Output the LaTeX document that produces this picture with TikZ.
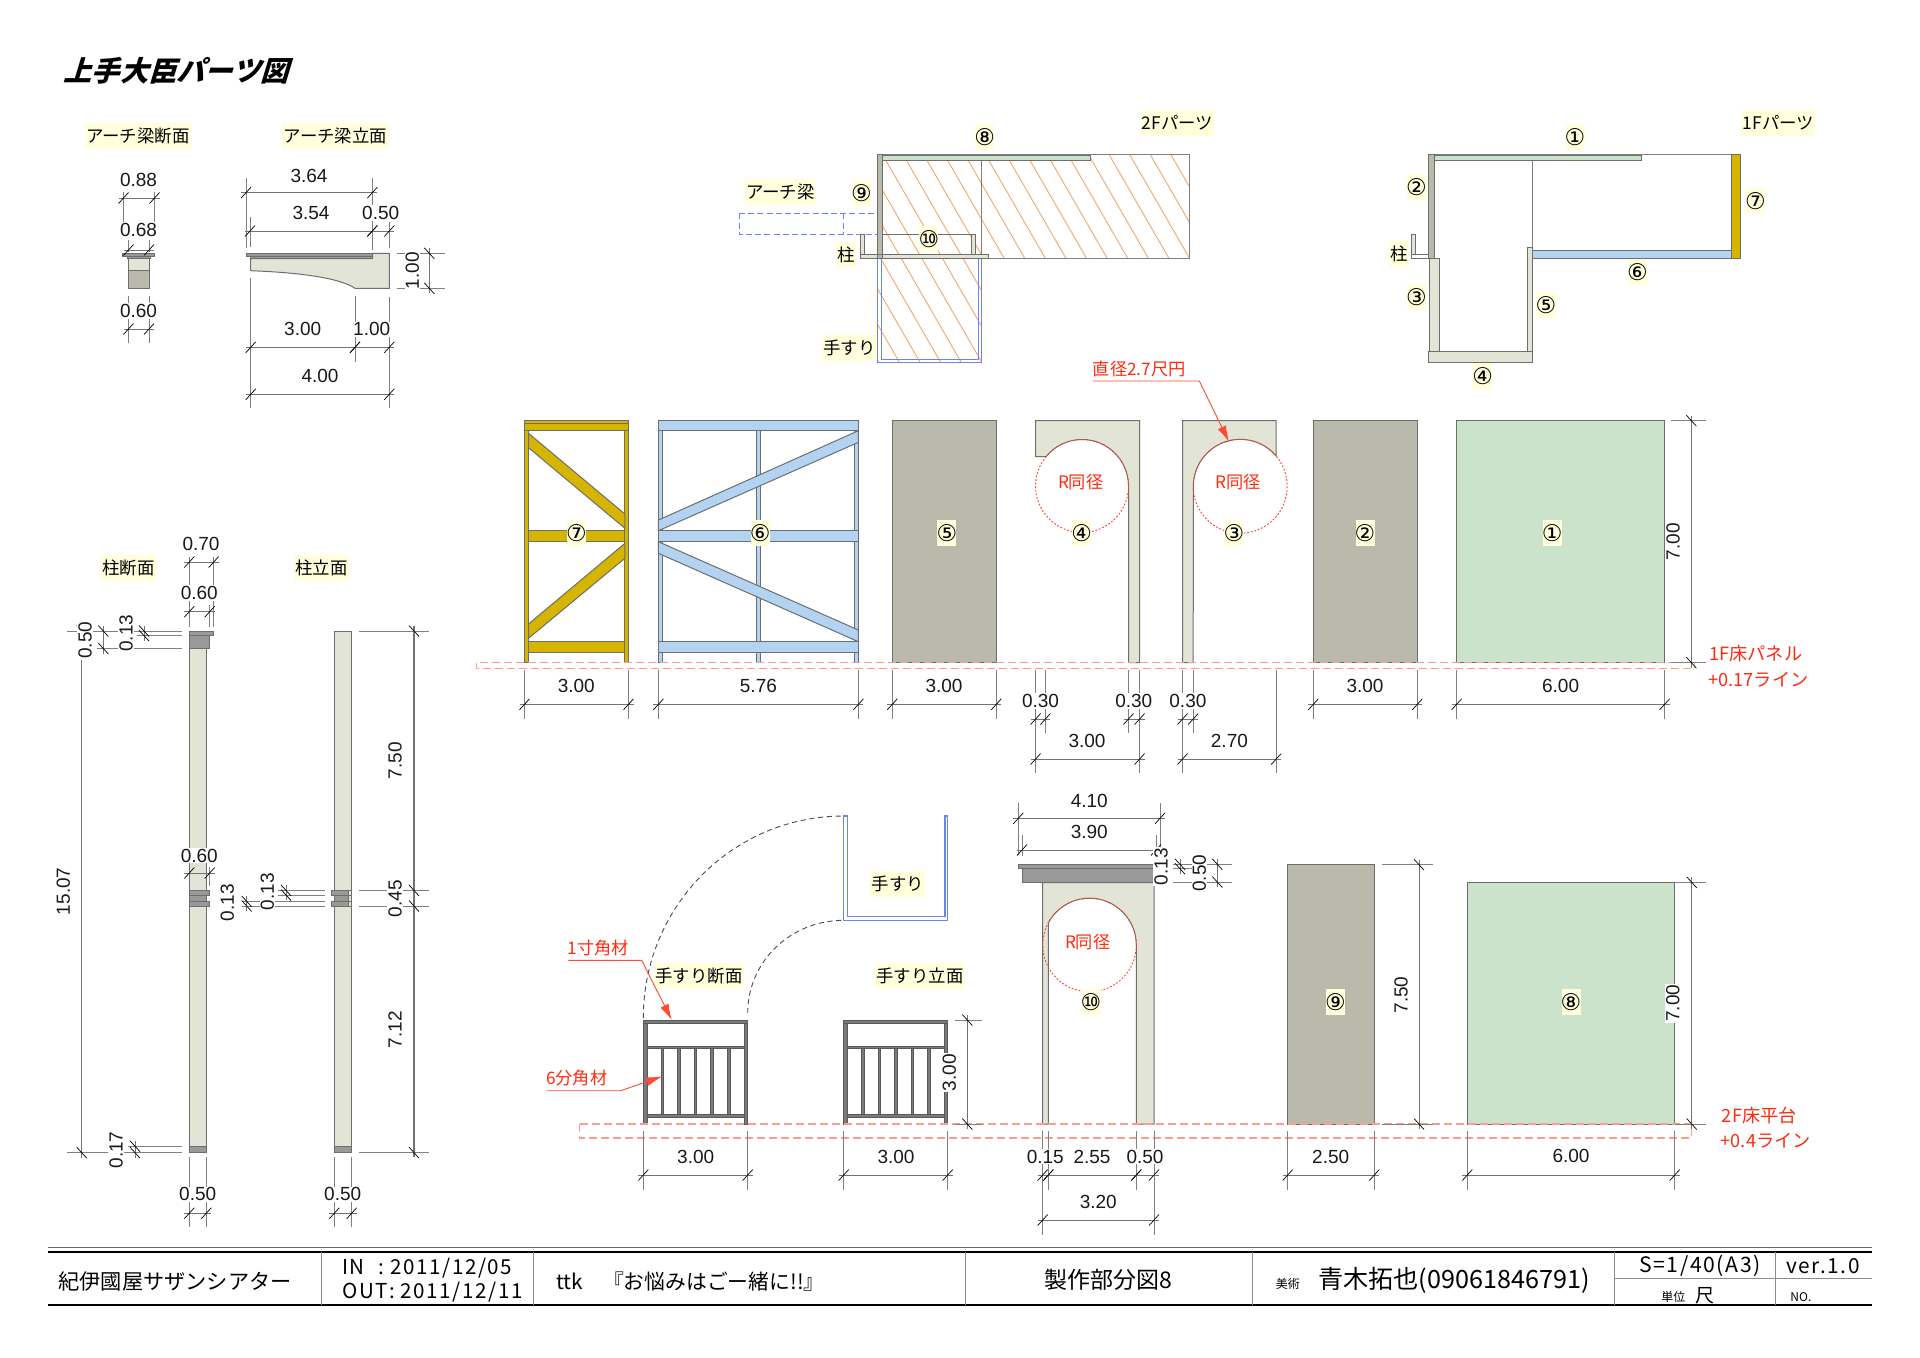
\documentclass[tikz,border=0pt]{standalone}
\usepackage{fontspec}
\setmainfont{Liberation Sans}
\newfontfamily\cjk{Noto Sans CJK JP}
\newfontfamily\cjkw[LetterSpace=7.5]{Noto Sans CJK JP}
\newfontfamily\dejav{DejaVu Sans}
\usetikzlibrary{arrows.meta}
\definecolor{cpale}{HTML}{E2E5D5}
\definecolor{cgray}{HTML}{B9B9AC}
\definecolor{cgreen}{HTML}{CBE2CB}
\definecolor{cblue}{HTML}{B3D3F2}
\definecolor{cyel}{HTML}{D5B500}
\definecolor{cdark}{HTML}{999999}
\definecolor{clab}{HTML}{FFFFDC}
\definecolor{cbl}{HTML}{6C84F0}
\definecolor{chat}{HTML}{F5A66A}
\definecolor{cred}{HTML}{FF2A10}
\definecolor{cflo}{HTML}{FF9C90}
\definecolor{cedge}{HTML}{6E6E6E}
\newcommand\fs[1]{\fontsize{#1}{#1}\selectfont}
\newcounter{nn}
\tikzset{
 pan/.style={draw=cedge,line width=.5pt},
 dimline/.style={draw=black!55,line width=.45pt},
 extl/.style={draw=black!50,line width=.4pt},
 tickl/.style={draw=black,line width=.35pt},
 dimt/.style={font=\fs{9.5},inner sep=.4pt,text=black!90,fill=white},
 dimr/.style={dimt,rotate=90},
 lab/.style={fill=clab,inner sep=.7pt,minimum height=13pt,font=\cjk\fs{8.7}},
 circ/.style={fill=clab,inner xsep=-.4pt,inner ysep=0pt,minimum height=13pt,minimum width=9.4pt,font=\dejav\fs{11.5}},
 redt/.style={font=\cjk\fs{8.6},text=cred,inner sep=0pt},
 redb/.style={font=\cjk\fs{9.1},text=cred,inner sep=0pt},
 ttl/.style={font=\cjk\fs{10.5},inner sep=0pt},
 floorl/.style={draw=cflo,line width=.6pt,dash pattern=on 4pt off 2pt},
 dotc/.style={draw=cred!90,line width=.45pt,dash pattern=on .9pt off .9pt},
 leader/.style={draw=cred!85,line width=.45pt},
 blu/.style={draw=cbl,line width=.6pt},
 rl/.style={fill=black!52,draw=black!65,line width=.3pt},
 hatchl/.style={draw=chat,line width=.45pt},
}
\newcommand\xl[3]{\draw[extl] (#1,#2) -- (#1,#3);}
\newcommand\yl[3]{\draw[extl] (#2,#1) -- (#3,#1);}
\newcommand\htick[2]{\draw[tickl] (#1-5,#2+5.5) -- (#1+5,#2-5.5);}
\newcommand\vtick[2]{\draw[tickl] (#1-5,#2-5.5) -- (#1+5,#2+5.5);}
\newcommand\hdim[3]{\draw[dimline] (#1-5,#3) -- (#2+5,#3);\htick{#1}{#3}\htick{#2}{#3}}
\newcommand\vdim[3]{\draw[dimline] (#3,#1-5) -- (#3,#2+5);\vtick{#3}{#1}\vtick{#3}{#2}}
\newcommand\dt[3]{\stepcounter{nn}\node[dimt] (d\arabic{nn}) at (#1,#2) {#3};}
\newcommand\dtr[3]{\stepcounter{nn}\node[dimr] (d\arabic{nn}) at (#1,#2) {#3};}
\newcommand\lb[3]{\stepcounter{nn}\node[lab] (l\arabic{nn}) at (#1,#2-.7) {#3};}
\newcommand\cc[3]{\stepcounter{nn}\node[circ] (c\arabic{nn}) at (#1,#2) {#3};}
\newcommand\rt[3]{\stepcounter{nn}\node[redt] (r\arabic{nn}) at (#1,#2) {#3};}
\newcommand\rb[3]{\stepcounter{nn}\node[redb] (r\arabic{nn}) at (#1,#2) {#3};}
\newcommand\rlg[1]{%
 \foreach \b in {19,35.6,52,68.7,85.3}{\draw[rl] (#1+\b-1.3,1048) rectangle (#1+\b+1.3,1114);}
 \draw[rl] (#1+4,1046) rectangle (#1+100.5,1048.3);
 \draw[rl] (#1+4,1114) rectangle (#1+100.5,1117.3);
 \draw[rl] (#1,1020) rectangle (#1+4,1124);
 \draw[rl] (#1+100.5,1020) rectangle (#1+104,1124);
 \draw[rl] (#1,1020) rectangle (#1+104,1023.3);
}
\begin{document}
\begin{tikzpicture}[x=.5pt,y=-.5pt]
\useasboundingbox (0,0) rectangle (1920,1357);
\fill[white] (0,0) rectangle (1920,1357);
% title
\node[font=\cjk\bfseries\fs{14.1},inner sep=0pt,xslant=.3,transform shape] (title) at (179.5,71) {上手大臣パーツ図};
\lb{137.8}{136.5}{アーチ梁断面}
\lb{335.5}{136.5}{アーチ梁立面}
% beam section
\xl{123.5}{192}{237}\xl{154.5}{192}{237}
\xl{128.5}{240}{252}\xl{149}{240}{252}
\xl{128.5}{296}{343}\xl{149}{296}{343}
\draw[pan,fill=cpale] (128.3,258.7) rectangle (149,270.7);
\draw[pan,fill=cgray] (128.3,270.7) rectangle (149,288.3);
\draw[pan,fill=cdark] (127,256.7) rectangle (150,258.7);
\draw[pan,fill=cdark] (122.7,253.3) rectangle (154.3,256.7);
\hdim{123.5}{154.5}{198}\hdim{128.5}{149}{250}\hdim{128.5}{149}{329}
\dt{138.5}{180}{0.88}\dt{138.5}{230}{0.68}\dt{138.5}{311}{0.60}
% beam elevation
\xl{246}{178}{248}\xl{372.3}{178}{250}\xl{250}{217}{247}\xl{389.3}{222}{248}
\xl{250.7}{278}{408}\xl{355}{296}{362}\xl{389.3}{297}{408}
\yl{253.3}{396.7}{445}\yl{288.3}{396.7}{445}
\draw[pan,fill=cpale] (250.7,258.7) -- (372.7,258.7) -- (372.7,253.3) -- (389.3,253.3) -- (389.3,288.3) -- (355,288.3) .. controls (340,278) and (300,272.5) .. (250.7,270.7) -- cycle;
\draw[pan,fill=cdark] (250,256.7) rectangle (372.7,258.7);
\draw[pan,fill=cdark] (246,253.3) rectangle (372.7,256.7);
\hdim{246}{372.3}{192.7}\hdim{250}{372.3}{231}\hdim{372.3}{389.3}{231}
\hdim{250.7}{355}{347.3}\hdim{355}{389.3}{347.3}\hdim{250.7}{389.3}{394.3}
\vdim{253.3}{288.3}{429.3}
\dt{309}{176}{3.64}\dt{311}{213}{3.54}\dt{380.7}{213}{0.50}
\dt{302.7}{329.3}{3.00}\dt{371.7}{329.3}{1.00}\dt{320}{376}{4.00}\dtr{412.3}{270.7}{1.00}
% 2F plan
\begin{scope}
\clip (877.5,154.3) -- (1189.3,154.3) -- (1189.3,258.3) -- (981.4,258.3) -- (981.4,362.3) -- (877.5,362.3) -- cycle;
\foreach \k in {-2,-1,...,24}{\draw[hatchl] ({1170.7-20.6*\k},154.3) -- ({1170.7-20.6*\k+120},{154.3+207.8});}
\end{scope}
\draw[extl,line width=.6pt] (877.5,154.3) -- (1189.3,154.3) -- (1189.3,258.3) -- (877.5,258.3);
\draw[extl,line width=.6pt] (981.4,160) -- (981.4,258.3);
\draw[blu] (877.5,258.3) -- (877.5,362.3) -- (981.4,362.3) -- (981.4,258.3);
\draw[blu] (881.4,258.3) -- (881.4,359.3) -- (978.6,359.3) -- (978.6,258.3);
\draw[blu,dash pattern=on 3pt off 1.6pt] (739.3,213.3) rectangle (877.5,234.3);
\draw[blu,dash pattern=on 3pt off 1.6pt] (843.2,213.3) -- (843.2,234.3);
\draw[pan,fill=cgreen] (882.9,155) rectangle (1090.4,160);
\draw[pan,fill=cgray] (877.5,154.3) rectangle (882.9,258.3);
\draw[pan] (882.9,234.3) -- (975.7,234.3);
\draw[pan,fill=cpale] (860.7,234.3) rectangle (864.3,255);
\draw[pan,fill=cpale] (971.4,234.3) rectangle (975.7,254.3);
\draw[pan,fill=cpale] (860.7,254.3) rectangle (988.6,258.3);
\draw[pan,fill=cgray] (877.5,254.3) rectangle (882.9,258.3);
\lb{1177.5}{123.3}{2Fパーツ}\cc{984.6}{137.3}{⑧}\cc{861.4}{192.7}{⑨}
\lb{780.4}{192.7}{アーチ梁}\cc{928.9}{239.3}{⑩}\lb{845.7}{255.3}{柱}\lb{849.3}{348.3}{手すり}
% 1F plan
\draw[extl,line width=.6pt] (1428.3,154.3) -- (1731.7,154.3);
\draw[extl,line width=.6pt] (1532.7,160) -- (1532.7,247.7);
\draw[pan,fill=cgreen] (1434.3,155) rectangle (1641.7,160);
\draw[pan,fill=cgray] (1428.3,154.3) rectangle (1434.3,258.3);
\draw[pan,fill=cpale] (1429,258.3) rectangle (1439.3,351.7);
\draw[pan,fill=cpale] (1428.3,351.7) rectangle (1532.7,362.3);
\draw[pan,fill=cpale] (1527.7,247.7) rectangle (1532.7,351.7);
\draw[pan,fill=cblue] (1532.7,250.3) rectangle (1731.7,258.3);
\draw[pan,fill=cyel] (1731.7,154.3) rectangle (1740,258.3);
\draw[pan,fill=cpale] (1411.7,234.3) rectangle (1415.3,255);
\draw[pan,fill=white] (1411.7,254.3) rectangle (1428.3,258.3);
\lb{1778.3}{123.3}{1Fパーツ}\cc{1575}{137.3}{①}\cc{1416.3}{187.3}{②}\cc{1755.3}{201}{⑦}
\cc{1637.3}{272.3}{⑥}\cc{1416.3}{296.7}{③}\cc{1546}{305}{⑤}\cc{1482.7}{376}{④}\lb{1398.7}{255}{柱}
% panel 7
\foreach \a/\b in {524.5/528.5,624.9/628.5}{\draw[pan,fill=cyel] (\a,420.7) rectangle (\b,662.7);}
\draw[pan,fill=cyel] (524.5,423.3) rectangle (628.5,430.7);
\draw[pan,fill=cyel] (524.5,420.7) rectangle (628.5,423.3);
\draw[pan,fill=cyel] (528.5,530.7) rectangle (624.9,541.7);
\draw[pan,fill=cyel] (528.5,641.7) rectangle (624.9,652.3);
\draw[pan,fill=cyel] (528.5,433.3) -- (624.9,514) -- (624.9,528.3) -- (528.5,447.7) -- cycle;
\draw[pan,fill=cyel] (624.9,543.3) -- (624.9,558.3) -- (528.5,638.3) -- (528.5,624) -- cycle;
% panel 6
\foreach \a/\b in {658.4/662.4,854.8/858.4,756.6/760.6}{\draw[pan,fill=cblue] (\a,420.7) rectangle (\b,662.7);}
\draw[pan,fill=cblue] (658.4,420.7) rectangle (858.4,430.7);
\draw[pan,fill=cblue] (658.4,530.7) rectangle (858.4,541.7);
\draw[pan,fill=cblue] (658.4,641.7) rectangle (858.4,652.3);
\draw[pan,fill=cblue] (658.4,520) -- (658.4,530.7) -- (858.4,442.3) -- (858.4,430.7) -- cycle;
\draw[pan,fill=cblue] (658.4,541.7) -- (658.4,553.3) -- (858.4,641.7) -- (858.4,630) -- cycle;
% panels 5,2,1
\draw[pan,fill=cgray] (892.3,420.7) rectangle (996.3,662.7);
\draw[pan,fill=cgray] (1313.3,420.7) rectangle (1417.3,662.7);
\draw[pan,fill=cgreen] (1456.6,420.7) rectangle (1664.6,662.7);
% panel 4
\draw[pan,fill=cpale] (1035.6,420.7) -- (1139.6,420.7) -- (1139.6,662.7) -- (1128.5,662.7) -- (1128.5,486) arc[start angle=0,end angle=-140.9,radius=46.5] -- (1035.6,456.7) -- cycle;
\draw[dotc] (1082,486) circle[radius=46.5];
% panel 3
\draw[pan,fill=cpale] (1182.5,420.7) -- (1276.2,420.7) -- (1276.2,456) arc[start angle=-40.2,end angle=-180,radius=47] -- (1193.2,662.7) -- (1182.5,662.7) -- cycle;
\draw[dotc] (1240.2,486.3) circle[radius=47];
% floor 1F
\draw[floorl] (476.7,662.7) rectangle (1694.6,668.3);
\rt{1080.7}{481.7}{R同径}\rt{1238.3}{481.7}{R同径}
\cc{576.3}{533.3}{⑦}\cc{760.2}{533.3}{⑥}\cc{946.8}{533.3}{⑤}\cc{1081.6}{533.3}{④}\cc{1233.8}{533.3}{③}\cc{1365}{533.3}{②}\cc{1552.1}{533.3}{①}
% leader 2.7
\rt{1139.3}{369.3}{直径2.7尺円}
\draw[leader,-{Latex[length=8pt,width=4.5pt]}] (1092.9,381) -- (1199.3,381) -- (1228.9,441.7);
\rb{1755.7}{653.3}{1F床パネル}\rb{1758.4}{679.3}{+0.17ライン}
% 1F dims
\foreach \a in {524.5,628.5,658.4,858.4,892.3,996.3,1313.3,1417.3,1456.6,1664.6}{\xl{\a}{670}{719.3}}
\foreach \a in {1045.4,1128.5,1193.2}{\xl{\a}{670}{733}}
\foreach \a in {1035.6,1139.6,1182.5,1276.2}{\xl{\a}{670}{773}}
\hdim{524.5}{628.5}{704.3}\hdim{658.4}{858.4}{704.3}\hdim{892.3}{996.3}{704.3}
\hdim{1313.3}{1417.3}{704.3}\hdim{1456.6}{1664.6}{704.3}
\hdim{1035.6}{1045.4}{719}\hdim{1128.5}{1139.6}{719}\hdim{1182.5}{1193.2}{719}
\hdim{1035.6}{1139.6}{759}\hdim{1182.5}{1276.2}{759}
\dt{576.3}{686}{3.00}\dt{758.4}{686}{5.76}\dt{944}{686}{3.00}\dt{1365}{686}{3.00}\dt{1560.6}{686}{6.00}
\dt{1040.5}{701}{0.30}\dt{1133.8}{701}{0.30}\dt{1187.9}{701}{0.30}
\dt{1087}{740.7}{3.00}\dt{1229.4}{740.7}{2.70}
\yl{420.7}{1671.3}{1705.7}\yl{662.7}{1671.3}{1705.7}
\vdim{420.7}{662.7}{1691.4}
\dtr{1673}{541.7}{7.00}
% columns
\lb{128.3}{569}{柱断面}\lb{321.6}{569}{柱立面}
\draw[pan,fill=cpale] (189.3,648.5) rectangle (206.3,1146.2);
\draw[pan,fill=cdark] (189.3,1146.2) rectangle (206.3,1152.6);
\draw[pan,fill=cdark] (189.3,635.6) rectangle (209.7,648.5);
\draw[pan,fill=cdark] (189.3,631) rectangle (213.7,635.6);
\draw[pan,fill=cdark] (189.3,895) rectangle (206.3,901.4);
\draw[pan,fill=cdark] (189.3,890.4) rectangle (209.7,895);
\draw[pan,fill=cdark] (189.3,901.4) rectangle (209.7,906);
\draw[pan,fill=cpale] (334.3,631) rectangle (351.7,1146.2);
\draw[pan,fill=cdark] (334.3,1146.2) rectangle (351.7,1152.6);
\draw[pan,fill=cdark] (334.3,895) rectangle (348.3,901.4);
\draw[pan,fill=cdark] (331,890.4) rectangle (348.3,895);
\draw[pan,fill=cdark] (331,901.4) rectangle (348.3,906);
\draw[pan,fill=cpale] (348.3,890.4) rectangle (351.7,895);
\draw[pan,fill=cpale] (348.3,901.4) rectangle (351.7,906);
% column dims
\xl{189.3}{557}{627}\xl{213.7}{557}{627}\xl{209.7}{605}{627}
\xl{209.7}{867}{886}
\foreach \a in {189.3,206.3,334.3,351.7}{\xl{\a}{1157}{1227}}
\yl{631}{66.7}{181.7}\yl{648.5}{96.7}{181.7}\yl{635.6}{136.7}{181.7}
\yl{1146.2}{128}{181.7}\yl{1152.6}{66.7}{181.7}
\yl{901.4}{241.7}{325}\yl{906}{241.7}{325}\yl{890.4}{278.3}{325}\yl{895}{278.3}{325}
\foreach \a in {631,890.4,906,1152.6}{\yl{\a}{359.3}{429}}
\hdim{189.3}{213.7}{562}\hdim{189.3}{209.7}{611.7}
\vdim{631}{1152.6}{81.7}
\vdim{631}{648.5}{103.3}\vdim{631}{635.6}{144}\vdim{1146.2}{1152.6}{135}
\vdim{901.4}{906}{246.7}\vdim{890.4}{895}{286}
\draw[dimline,line width=.7pt] (414,626) -- (414,1157);
\foreach \a in {631,890.4,906,1152.6}{\vtick{414}{\a}}
\hdim{189.3}{206.3}{1213.2}\hdim{334.3}{351.7}{1213.2}
\dt{199.3}{855.5}{0.60}\hdim{189.3}{209.7}{873}
\dt{201}{544.2}{0.70}\dt{199.3}{593}{0.60}
\dtr{85}{640.2}{0.50}\dtr{126}{633.3}{0.13}\dtr{63.3}{891.3}{15.07}\dtr{116}{1150}{0.17}
\dtr{227.3}{902.8}{0.13}\dtr{267.3}{891.8}{0.13}
\dtr{395}{760.5}{7.50}\dtr{395}{898.7}{0.45}\dtr{395}{1029.5}{7.12}
\dt{197.7}{1194.4}{0.50}\dt{342.7}{1194.4}{0.50}
% handrail top
\draw[blu] (843.7,816) -- (843.7,920.3) -- (947.7,920.3) -- (947.7,816) -- (945,816) -- (945,916.7) -- (847.3,916.7) -- (847.3,816) -- cycle;
\draw[draw=black!70,line width=.45pt,dash pattern=on 2.6pt off 1.8pt] (643.3,1018) .. controls (643.3,907) and (732,816) .. (843.7,816);
\draw[draw=black!70,line width=.45pt,dash pattern=on 2.6pt off 1.8pt] (747.7,1013) .. controls (747.7,962) and (790,920.3) .. (843.7,920.3);
\lb{897.7}{885}{手すり}\lb{699}{976.7}{手すり断面}\lb{920}{976.7}{手すり立面}
\rlg{643.3}\rlg{843.7}
\rt{598.3}{947.7}{1寸角材}\rt{576.7}{1078.3}{6分角材}
\draw[leader,-{Latex[length=8pt,width=4.5pt]}] (568.3,960.3) -- (641.7,960.3) -- (671.7,1020);
\draw[leader,-{Latex[length=8pt,width=4.5pt]}] (546.7,1090.7) -- (620.7,1090.7) -- (662.3,1076.3);
% arch 10
\draw[pan,fill=cpale] (1042.7,882.7) -- (1154,882.7) -- (1154,1124) -- (1136.3,1124) -- (1136.3,945) arc[start angle=0,end angle=-151.7,radius=46.8] -- (1048.3,1124) -- (1042.7,1124) -- cycle;
\draw[pan,fill=cdark] (1022,868.7) rectangle (1157,882);
\draw[pan,fill=cdark] (1018.3,864.3) rectangle (1160,868.7);
\draw[dotc] (1089.5,945) circle[radius=46.8];
\rt{1087.7}{942.3}{R同径}\cc{1091}{1002}{⑩}
\draw[pan,fill=cgray] (1287.7,864.3) rectangle (1374.3,1124);
\cc{1335.3}{1002}{⑨}
\draw[pan,fill=cgreen] (1467.3,882.3) rectangle (1674.7,1124);
\cc{1571}{1002.3}{⑧}
% floor 2F
\draw[floorl] (579.3,1124) rectangle (1691.7,1138);
\rb{1759.3}{1115.7}{2F床平台}\rb{1765.7}{1140.7}{+0.4ライン}
% 2F dims
\xl{1018.3}{803}{855}\xl{1160}{803}{855}\xl{1022}{835}{856}\xl{1156}{835}{856}
\hdim{1018.3}{1160}{818.3}\hdim{1022}{1156}{850}
\dt{1089.3}{800.7}{4.10}\dt{1089.3}{831.7}{3.90}
\yl{864.3}{1173}{1231.7}\yl{882}{1173}{1231.7}\yl{868.7}{1173}{1197}
\vdim{864.3}{868.7}{1180}\vdim{864.3}{882}{1217.3}
\dtr{1161}{866.7}{0.13}\dtr{1199.3}{873.3}{0.50}
\foreach \a in {643.3,747.7,843.7,947.7,1287.7,1374.3,1467.3,1674.7}{\xl{\a}{1131}{1190}}
\foreach \a in {1048.3,1136.3}{\xl{\a}{1131}{1190}}
\foreach \a in {1042.7,1154}{\xl{\a}{1131}{1235}}
\hdim{643.3}{747.7}{1175}\hdim{843.7}{947.7}{1175}\hdim{1287.7}{1374.3}{1175}\hdim{1467.3}{1674.7}{1175}
\hdim{1042.7}{1048.3}{1175}\hdim{1048.3}{1136.3}{1175}\hdim{1136.3}{1154}{1175}\hdim{1042.7}{1154}{1220}
\dt{695.7}{1156.7}{3.00}\dt{896}{1156.7}{3.00}
\dt{1045.3}{1156.7}{0.15}\dt{1092}{1156.7}{2.55}\dt{1145}{1156.7}{0.50}\dt{1098.3}{1201.7}{3.20}
\dt{1330.7}{1156.7}{2.50}\dt{1571}{1156}{6.00}
\yl{1020}{955}{982.3}\yl{1124}{955}{982.3}\vdim{1020}{1124}{967.3}\dtr{949.3}{1072.7}{3.00}
\yl{864.7}{1381.7}{1433.3}\yl{1124}{1381.7}{1433.3}\vdim{864.7}{1124}{1419}\dtr{1401}{995}{7.50}
\yl{882.3}{1675}{1706}\yl{1124}{1675}{1706}\vdim{882.3}{1124}{1691.7}\dtr{1672.7}{1003.3}{7.00}
% title block
\draw[black!60,line width=.5pt] (48,1247.3) -- (1872,1247.3);
\draw[black,line width=1pt] (48,1252) -- (1872,1252);
\draw[black,line width=1pt] (48,1305) -- (1872,1305);
\foreach \a in {321.5,533,965,1252.7,1614.5,1775.8}{\draw[black!45,line width=.5pt] (\a,1252) -- (\a,1305);}
\draw[black!45,line width=.8pt] (1614.5,1278.3) -- (1872,1278.3);
\node[ttl,font=\cjk\fs{10.6}] (t1) at (175,1281.7) {紀伊國屋サザンシアター};
\node[ttl,anchor=west,font=\cjkw\fs{10.3}] (t2) at (342,1268.3) {IN\hspace{7pt}: 2011/12/05};
\node[ttl,anchor=west,font=\cjkw\fs{10.3}] (t3) at (342,1292.3) {OUT: 2011/12/11};
\node[ttl,anchor=west,font=\cjk\fs{10.4}] (t4) at (556,1281.7) {ttk\hspace{10pt}『お悩みはごー緒に!!』};
\node[ttl,font=\cjk\fs{11.5}] (t5) at (1108.5,1280) {製作部分図8};
\node[ttl,font=\cjk\fs{6}] (t6) at (1287.8,1284) {美術};
\node[ttl,font=\cjk\fs{12.6}] (t7) at (1454,1280.7) {青木拓也(09061846791)};
\node[ttl,font=\cjkw\fs{10.6}] (t8) at (1700,1266) {S=1/40(A3)};
\node[ttl,font=\cjkw\fs{10.4}] (t9) at (1823,1266) {ver.1.0};
\node[ttl,font=\cjk\fs{6}] (t10) at (1673.3,1296.7) {単位};
\node[ttl,font=\cjk\fs{9.5}] (t11) at (1705,1296) {尺};
\node[ttl,font=\cjk\fs{6},anchor=west] (t12) at (1790,1297.3) {NO.};
\end{tikzpicture}
\end{document}
